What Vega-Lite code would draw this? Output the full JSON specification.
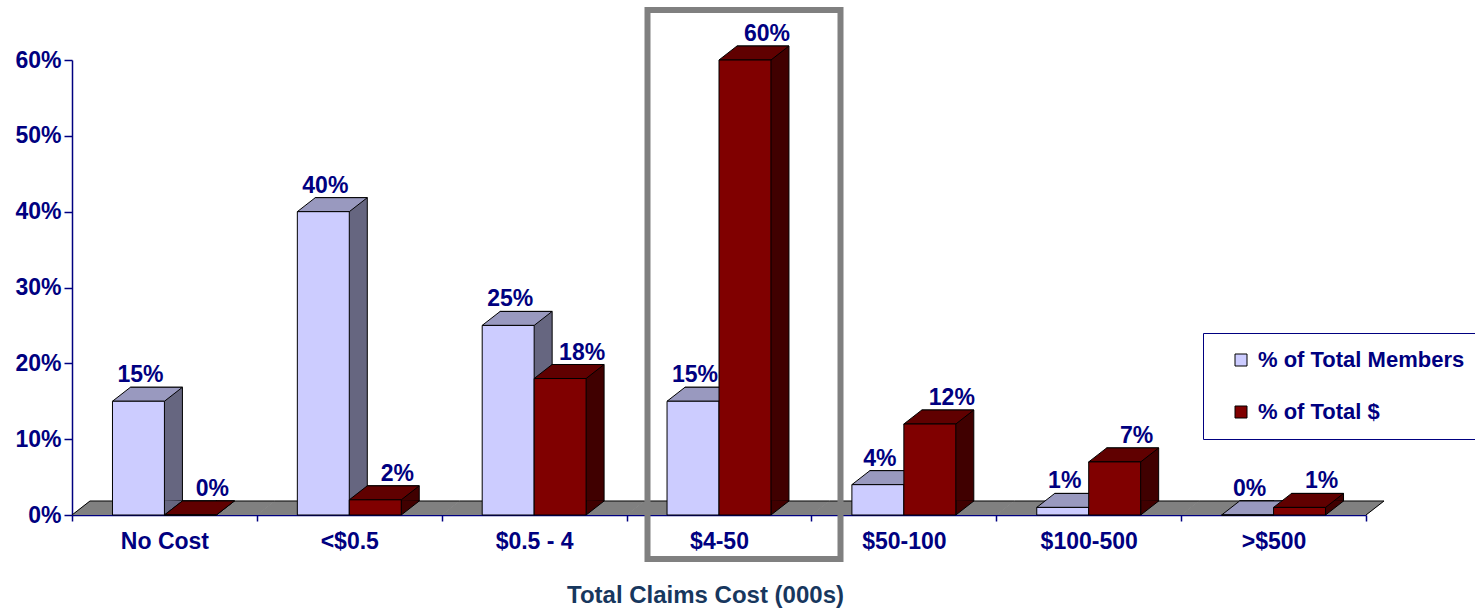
{
  "$schema": "https://vega.github.io/schema/vega-lite/v6.json",
  "width": 1294,
  "height": 455,
  "autosize": {"type": "none"},
  "padding": {"left": 72, "top": 60, "right": 109, "bottom": 93},
  "background": "white",
  "config": {
    "view": {"stroke": null},
    "font": "Liberation Sans",
    "axisY": {"labelFontSize": 23, "labelFontWeight": "bold", "labelColor": "#000080", "tickSize": 8, "tickColor": "#000080", "domainColor": "#000080", "domainWidth": 1.5, "tickWidth": 1.5, "labelPadding": 3, "grid": false, "zindex": 1},
    "axisX": {"labelFontSize": 23, "labelFontWeight": "bold", "labelColor": "#000080", "tickSize": 6, "tickColor": "#000080", "domainColor": "#000080", "domainWidth": 1.5, "tickWidth": 1.5, "labelPadding": 9, "labelAngle": 0, "grid": false, "zindex": 1}
  },
  "resolve": {"scale": {"xOffset": "independent"}},
  "data": {"values": [
    {"cat": "No Cost", "series": "% of Total Members", "value": 0.15},
    {"cat": "No Cost", "series": "% of Total $", "value": 0.0},
    {"cat": "<$0.5", "series": "% of Total Members", "value": 0.40},
    {"cat": "<$0.5", "series": "% of Total $", "value": 0.02},
    {"cat": "$0.5 - 4", "series": "% of Total Members", "value": 0.25},
    {"cat": "$0.5 - 4", "series": "% of Total $", "value": 0.18},
    {"cat": "$4-50", "series": "% of Total Members", "value": 0.15},
    {"cat": "$4-50", "series": "% of Total $", "value": 0.60},
    {"cat": "$50-100", "series": "% of Total Members", "value": 0.04},
    {"cat": "$50-100", "series": "% of Total $", "value": 0.12},
    {"cat": "$100-500", "series": "% of Total Members", "value": 0.01},
    {"cat": "$100-500", "series": "% of Total $", "value": 0.07},
    {"cat": ">$500", "series": "% of Total Members", "value": 0.0},
    {"cat": ">$500", "series": "% of Total $", "value": 0.01}
  ]},
  "encoding": {
    "x": {
      "field": "cat", "type": "nominal",
      "sort": ["No Cost", "<$0.5", "$0.5 - 4", "$4-50", "$50-100", "$100-500", ">$500"],
      "scale": {"paddingInner": 0, "paddingOuter": 0},
      "axis": {"title": "Total Claims Cost (000s)", "tickBand": "extent", "titleFontSize": 24, "titleFontWeight": "bold", "titleColor": "#17375E", "titleX": 633, "titleY": 87, "titleAlign": "center", "titleBaseline": "alphabetic"}
    }
  },
  "layer": [
    {
      "transform": [{"filter": "datum.series === '% of Total Members'"}],
      "mark": {"type": "point", "shape": "M-1.004,0L1.004,0L1.1987,-0.1515L-0.8093,-0.1515Z", "size": 34172, "filled": true, "opacity": 1, "fill": "#808080", "strokeWidth": 0},
      "encoding": {
        "y": {"datum": 0, "type": "quantitative", "scale": {"domain": [0, 0.6], "nice": false}, "axis": {"title": null, "values": [0, 0.1, 0.2, 0.3, 0.4, 0.5, 0.6], "format": ".0%"}}
      }
    },
    {
      "transform": [{"filter": "datum.series === '% of Total Members'"}],
      "mark": {"type": "point", "size": 34172, "filled": false, "opacity": 1, "stroke": "black", "strokeWidth": 1},
      "encoding": {
        "y": {"datum": 0, "type": "quantitative", "scale": {"domain": [0, 0.6], "nice": false}, "axis": {"title": null, "values": [0, 0.1, 0.2, 0.3, 0.4, 0.5, 0.6], "format": ".0%"}},
        "shape": {"field": "cat", "type": "nominal", "legend": null, "scale": {
          "domain": ["No Cost", "<$0.5", "$0.5 - 4", "$4-50", "$50-100", "$100-500", ">$500"],
          "range": ["M-1,0L-0.8053,-0.1515L1.1947,-0.1515", "M-0.8053,-0.1515L1.1947,-0.1515", "M-0.8053,-0.1515L1.1947,-0.1515", "M-0.8053,-0.1515L1.1947,-0.1515", "M-0.8053,-0.1515L1.1947,-0.1515", "M-0.8053,-0.1515L1.1947,-0.1515", "M-0.8053,-0.1515L1.1947,-0.1515L1,0"]
        }}
      }
    },
    {
      "transform": [{"filter": "datum.series === '% of Total Members'"}],
      "mark": {"type": "bar", "fill": "#666680", "stroke": "black", "strokeWidth": 1, "yOffset": -14, "y2Offset": -14},
      "encoding": {
        "xOffset": {"field": "series", "type": "nominal", "sort": ["% of Total Members", "% of Total $"], "scale": {"type": "band", "domain": ["% of Total Members", "% of Total $"], "paddingInner": 0, "paddingOuter": 0.779, "range": [18, 202.857]}},
        "y": {"field": "value", "type": "quantitative", "scale": {"domain": [0, 0.6], "nice": false}, "axis": {"title": null, "values": [0, 0.1, 0.2, 0.3, 0.4, 0.5, 0.6], "format": ".0%"}}
      }
    },
    {
      "transform": [{"filter": "datum.series === '% of Total Members'"}],
      "mark": {"type": "point", "shape": "M1.6923,-0.5385L1,0L1,-0.565", "size": 2704, "filled": true, "opacity": 1, "fill": "#666680", "stroke": "black", "strokeWidth": 1},
      "encoding": {
        "xOffset": {"field": "series", "type": "nominal", "sort": ["% of Total Members", "% of Total $"], "scale": {"type": "band", "domain": ["% of Total Members", "% of Total $"], "paddingInner": 0, "paddingOuter": 0.779}},
        "y": {"datum": 0, "type": "quantitative", "scale": {"domain": [0, 0.6], "nice": false}, "axis": {"title": null, "values": [0, 0.1, 0.2, 0.3, 0.4, 0.5, 0.6], "format": ".0%"}}
      }
    },
    {
      "transform": [{"filter": "datum.series === '% of Total Members'"}],
      "mark": {"type": "point", "shape": "M-1,0L1,0L1.6923,-0.5385L-0.3077,-0.5385Z", "size": 2704, "filled": true, "opacity": 1, "fill": "#9999BF", "stroke": "black", "strokeWidth": 1},
      "encoding": {
        "xOffset": {"field": "series", "type": "nominal", "sort": ["% of Total Members", "% of Total $"], "scale": {"type": "band", "domain": ["% of Total Members", "% of Total $"], "paddingInner": 0, "paddingOuter": 0.779}},
        "y": {"field": "value", "type": "quantitative", "scale": {"domain": [0, 0.6], "nice": false}, "axis": {"title": null, "values": [0, 0.1, 0.2, 0.3, 0.4, 0.5, 0.6], "format": ".0%"}}
      }
    },
    {
      "transform": [{"filter": "datum.series === '% of Total Members'"}],
      "mark": {"type": "bar", "stroke": "black", "strokeWidth": 1},
      "encoding": {
        "xOffset": {"field": "series", "type": "nominal", "sort": ["% of Total Members", "% of Total $"], "scale": {"type": "band", "domain": ["% of Total Members", "% of Total $"], "paddingInner": 0, "paddingOuter": 0.779}},
        "y": {"field": "value", "type": "quantitative", "scale": {"domain": [0, 0.6], "nice": false}, "axis": {"title": null, "values": [0, 0.1, 0.2, 0.3, 0.4, 0.5, 0.6], "format": ".0%"}},
        "color": {"field": "series", "type": "nominal", "scale": {"domain": ["% of Total Members", "% of Total $"], "range": ["#CCCCFF", "#800000"]},
          "legend": {"orient": "none", "legendX": 1131, "legendY": 273, "title": null, "direction": "vertical", "strokeColor": "#000080", "fillColor": "white", "padding": 16, "symbolType": "square", "symbolSize": 144, "symbolStrokeColor": "black", "symbolStrokeWidth": 1, "symbolOffset": 11, "labelFont": "Liberation Sans", "labelFontSize": 22, "labelFontWeight": "bold", "labelColor": "#000080", "labelOffset": 6, "rowPadding": 30, "labelLimit": 400}}
      }
    },
    {
      "transform": [{"filter": "datum.series === '% of Total $'"}],
      "mark": {"type": "bar", "fill": "#400000", "stroke": "black", "strokeWidth": 1, "yOffset": -14, "y2Offset": -14},
      "encoding": {
        "xOffset": {"field": "series", "type": "nominal", "sort": ["% of Total Members", "% of Total $"], "scale": {"type": "band", "domain": ["% of Total Members", "% of Total $"], "paddingInner": 0, "paddingOuter": 0.779, "range": [18, 202.857]}},
        "y": {"field": "value", "type": "quantitative", "scale": {"domain": [0, 0.6], "nice": false}, "axis": {"title": null, "values": [0, 0.1, 0.2, 0.3, 0.4, 0.5, 0.6], "format": ".0%"}}
      }
    },
    {
      "transform": [{"filter": "datum.series === '% of Total $'"}],
      "mark": {"type": "point", "shape": "M1.6923,-0.5385L1,0L1,-0.565", "size": 2704, "filled": true, "opacity": 1, "fill": "#400000", "stroke": "black", "strokeWidth": 1},
      "encoding": {
        "xOffset": {"field": "series", "type": "nominal", "sort": ["% of Total Members", "% of Total $"], "scale": {"type": "band", "domain": ["% of Total Members", "% of Total $"], "paddingInner": 0, "paddingOuter": 0.779}},
        "y": {"datum": 0, "type": "quantitative", "scale": {"domain": [0, 0.6], "nice": false}, "axis": {"title": null, "values": [0, 0.1, 0.2, 0.3, 0.4, 0.5, 0.6], "format": ".0%"}}
      }
    },
    {
      "transform": [{"filter": "datum.series === '% of Total $'"}],
      "mark": {"type": "point", "shape": "M-1,0L1,0L1.6923,-0.5385L-0.3077,-0.5385Z", "size": 2704, "filled": true, "opacity": 1, "fill": "#600000", "stroke": "black", "strokeWidth": 1},
      "encoding": {
        "xOffset": {"field": "series", "type": "nominal", "sort": ["% of Total Members", "% of Total $"], "scale": {"type": "band", "domain": ["% of Total Members", "% of Total $"], "paddingInner": 0, "paddingOuter": 0.779}},
        "y": {"field": "value", "type": "quantitative", "scale": {"domain": [0, 0.6], "nice": false}, "axis": {"title": null, "values": [0, 0.1, 0.2, 0.3, 0.4, 0.5, 0.6], "format": ".0%"}}
      }
    },
    {
      "transform": [{"filter": "datum.series === '% of Total $'"}],
      "mark": {"type": "bar", "stroke": "black", "strokeWidth": 1},
      "encoding": {
        "xOffset": {"field": "series", "type": "nominal", "sort": ["% of Total Members", "% of Total $"], "scale": {"type": "band", "domain": ["% of Total Members", "% of Total $"], "paddingInner": 0, "paddingOuter": 0.779}},
        "y": {"field": "value", "type": "quantitative", "scale": {"domain": [0, 0.6], "nice": false}, "axis": {"title": null, "values": [0, 0.1, 0.2, 0.3, 0.4, 0.5, 0.6], "format": ".0%"}},
        "color": {"field": "series", "type": "nominal", "scale": {"domain": ["% of Total Members", "% of Total $"], "range": ["#CCCCFF", "#800000"]}}
      }
    },
    {
      "transform": [{"filter": "datum.series === '% of Total Members'"}],
      "mark": {"type": "text", "dx": 2, "dy": -19, "baseline": "alphabetic", "align": "center", "font": "Liberation Sans", "fontSize": 23, "fontWeight": "bold", "color": "#000080"},
      "encoding": {
        "xOffset": {"field": "series", "type": "nominal", "sort": ["% of Total Members", "% of Total $"], "scale": {"type": "band", "domain": ["% of Total Members", "% of Total $"], "paddingInner": 0, "paddingOuter": 0.779}},
        "y": {"field": "value", "type": "quantitative", "scale": {"domain": [0, 0.6], "nice": false}, "axis": {"title": null, "values": [0, 0.1, 0.2, 0.3, 0.4, 0.5, 0.6], "format": ".0%"}},
        "text": {"field": "value", "type": "quantitative", "format": ".0%"}
      }
    },
    {
      "transform": [{"filter": "datum.series === '% of Total $'"}],
      "mark": {"type": "text", "dx": 22, "dy": -19, "baseline": "alphabetic", "align": "center", "font": "Liberation Sans", "fontSize": 23, "fontWeight": "bold", "color": "#000080"},
      "encoding": {
        "xOffset": {"field": "series", "type": "nominal", "sort": ["% of Total Members", "% of Total $"], "scale": {"type": "band", "domain": ["% of Total Members", "% of Total $"], "paddingInner": 0, "paddingOuter": 0.779}},
        "y": {"field": "value", "type": "quantitative", "scale": {"domain": [0, 0.6], "nice": false}, "axis": {"title": null, "values": [0, 0.1, 0.2, 0.3, 0.4, 0.5, 0.6], "format": ".0%"}},
        "text": {"field": "value", "type": "quantitative", "format": ".0%"}
      }
    },
    {
      "data": {"values": [{"cat": "$4-50", "top": 0.666, "bottom": -0.058}]},
      "mark": {"type": "bar", "fill": "transparent", "stroke": "#808080", "strokeWidth": 6, "width": 193, "xOffset": 25},
      "encoding": {
        "y": {"field": "top", "type": "quantitative", "scale": {"domain": [0, 0.6], "nice": false}, "axis": {"title": null, "values": [0, 0.1, 0.2, 0.3, 0.4, 0.5, 0.6], "format": ".0%"}},
        "y2": {"field": "bottom"}
      }
    }
  ]
}
